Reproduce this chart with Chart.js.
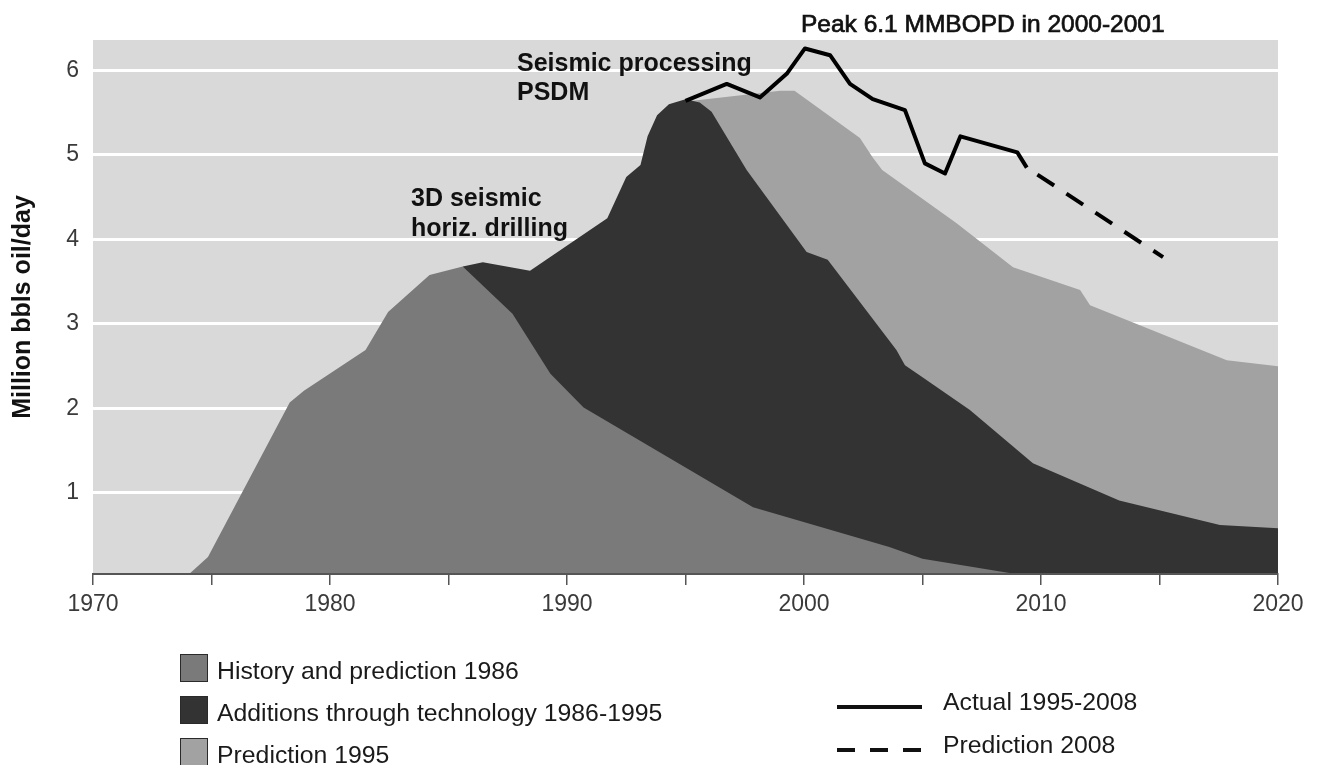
<!DOCTYPE html>
<html>
<head>
<meta charset="utf-8">
<script src="https://cdn.jsdelivr.net/npm/chart.js@4.4.0/dist/chart.umd.min.js"></script>
<style>
  html, body { margin: 0; padding: 0; background: #ffffff; }
  #wrap { position: relative; width: 1319px; height: 765px; overflow: hidden; }
  #c { position: absolute; left: 0; top: 0; }
  .lg { position: absolute; font-family: "Liberation Sans", Arial, sans-serif; font-size: 24.8px; line-height: 28px; color: #1a1a1a; white-space: nowrap; }
  .sq { position: absolute; width: 26px; height: 26px; border: 1px solid #2a2a2a; }
  .ln { position: absolute; height: 4px; }
</style>
</head>
<body>
<div id="wrap">
  <canvas id="c" width="1319" height="765"></canvas>
  <div id="legend"></div>
</div>
<script>
// ---------------- DATA ----------------
const xTickValues = [1970, 1975, 1980, 1985, 1990, 1995, 2000, 2005, 2010, 2015, 2020];
const yTickValues = [1, 2, 3, 4, 5, 6];

// History and prediction 1986 (mid grey area)
const historyYears  = [1973.9, 1974.85, 1978.3, 1978.9, 1981.5, 1982.45, 1984.2, 1985.6, 1987.7, 1989.3, 1990.7, 1997.85, 2003.6, 2005.0, 2009.8];
const historyValues = [0, 0.24, 2.07, 2.21, 2.69, 3.14, 3.58, 3.68, 3.12, 2.41, 2.01, 0.83, 0.36, 0.22, 0];

// Additions through technology 1986-1995 (upper boundary of dark area)
const additionsYears  = [1985.6, 1986.45, 1988.44, 1990.55, 1991.7, 1992.5, 1993.1, 1993.4, 1993.8, 1994.3, 1995.0, 1995.6, 1996.1, 1997.58, 2000.11, 2001.0, 2003.9, 2004.26, 2005.0, 2007.0, 2009.66, 2013.3, 2017.55, 2020];
const additionsValues = [3.68, 3.73, 3.63, 4.03, 4.25, 4.74, 4.88, 5.22, 5.47, 5.60, 5.66, 5.62, 5.51, 4.82, 3.85, 3.76, 2.69, 2.51, 2.37, 1.98, 1.35, 0.91, 0.62, 0.58];

// Prediction 1995 (upper boundary of light grey area)
const prediction1995Years  = [1995.0, 1995.3, 1997.16, 1999.0, 1999.6, 2002.36, 2002.9, 2003.3, 2006.44, 2008.82, 2011.65, 2012.07, 2014.04, 2017.84, 2020];
const prediction1995Values = [5.66, 5.64, 5.70, 5.76, 5.76, 5.20, 4.97, 4.82, 4.19, 3.67, 3.40, 3.22, 3.00, 2.57, 2.50];

// Actual 1995-2008 (solid line)
const actualYears  = [1995.0, 1996.74, 1998.14, 1999.27, 2000.04, 2001.1, 2001.94, 2002.9, 2004.26, 2005.1, 2005.95, 2006.6, 2009.0, 2009.4];
const actualValues = [5.64, 5.84, 5.68, 5.96, 6.26, 6.18, 5.84, 5.66, 5.53, 4.90, 4.78, 5.22, 5.03, 4.85];

// Prediction 2008 (dashed line)
const prediction2008Years  = [2009.4, 2015.15];
const prediction2008Values = [4.85, 3.79];

const areaNames = ["History and prediction 1986", "Additions through technology 1986-1995", "Prediction 1995"];
const lineNames = ["Actual 1995-2008", "Prediction 2008"];
const yAxisTitle = "Million bbls oil/day";
const notes = {
  peak: "Peak 6.1 MMBOPD in 2000-2001",
  seismic: ["Seismic processing", "PSDM"],
  threeD: ["3D seismic", "horiz. drilling"]
};
// ------------------------------------------------------------------------

const FONT = '"Liberation Sans", Arial, sans-serif';
const COL = { bg: '#d9d9d9', history: '#7a7a7a', additions: '#333333', pred95: '#a2a2a2', line: '#000000' };

function pts(xs, ys) { return xs.map((x, i) => ({ x: x, y: ys[i] })); }

const plotBg = {
  id: 'plotBg',
  beforeDraw(chart) {
    const { ctx, chartArea: a } = chart;
    ctx.save();
    ctx.fillStyle = COL.bg;
    ctx.fillRect(a.left, a.top, a.right - a.left, a.bottom - a.top);
    ctx.restore();
  }
};

const notesPlugin = {
  id: 'notes',
  afterDraw(chart) {
    const ctx = chart.ctx;
    ctx.save();
    ctx.fillStyle = '#111';
    ctx.strokeStyle = '#111';
    ctx.textAlign = 'left';
    ctx.textBaseline = 'alphabetic';
    ctx.font = 'bold 25px ' + FONT;
    ctx.fillText(notes.seismic[0], 517, 71);
    ctx.fillText(notes.seismic[1], 517, 100);
    ctx.fillText(notes.threeD[0], 411, 206);
    ctx.fillText(notes.threeD[1], 411, 236);
    ctx.font = '24.5px ' + FONT;
    ctx.lineWidth = 0.7;
    ctx.fillText(notes.peak, 801, 32);
    ctx.strokeText(notes.peak, 801, 32);
    ctx.restore();
  }
};

new Chart(document.getElementById('c'), {
  type: 'line',
  data: {
    datasets: [
      { label: lineNames[0], data: pts(actualYears, actualValues), borderColor: COL.line, borderWidth: 4,
        pointRadius: 0, fill: false, tension: 0, borderJoinStyle: 'round', borderCapStyle: 'butt', order: 0 },
      { label: lineNames[1], data: pts(prediction2008Years, prediction2008Values), borderColor: COL.line, borderWidth: 4,
        borderDash: [20, 14.7], borderDashOffset: 22, pointRadius: 0, fill: false, tension: 0, order: 0 },
      { label: areaNames[0], data: pts(historyYears, historyValues), borderWidth: 0, borderColor: COL.history,
        backgroundColor: COL.history, pointRadius: 0, fill: 'start', tension: 0, order: 1 },
      { label: areaNames[1], data: pts(additionsYears, additionsValues), borderWidth: 0, borderColor: COL.additions,
        backgroundColor: COL.additions, pointRadius: 0, fill: 'start', tension: 0, order: 2 },
      { label: areaNames[2], data: pts(prediction1995Years, prediction1995Values), borderWidth: 0, borderColor: COL.pred95,
        backgroundColor: COL.pred95, pointRadius: 0, fill: 'start', tension: 0, order: 3 }
    ]
  },
  options: {
    responsive: false,
    animation: false,
    events: [],
    layout: { padding: { top: 40, right: 41, left: 0, bottom: 0 } },
    plugins: { legend: { display: false }, tooltip: { enabled: false } },
    scales: {
      x: {
        type: 'linear',
        min: 1970, max: 2020,
        afterFit(scale) { scale.height = 191; },
        afterBuildTicks(scale) { scale.ticks = xTickValues.map(v => ({ value: v })); },
        grid: { drawOnChartArea: false, drawTicks: true, tickLength: 11, color: '#555', lineWidth: 1.5 },
        border: { display: true, color: '#555', width: 2, z: 2 },
        ticks: {
          autoSkip: false, maxRotation: 0, padding: 6, color: '#3a3a3a',
          font: { family: FONT, size: 23 },
          callback: (v) => (v % 10 === 0 ? String(v) : '')
        }
      },
      y: {
        type: 'linear',
        min: 0.04, max: 6.36,
        afterFit(scale) { scale.width = 93; },
        afterBuildTicks(scale) { scale.ticks = yTickValues.map(v => ({ value: v })); },
        grid: { drawTicks: false, color: '#ffffff', lineWidth: 3 },
        border: { display: false },
        ticks: { padding: 14, color: '#3a3a3a', font: { family: FONT, size: 23 } },
        title: { display: true, text: yAxisTitle, color: '#111', padding: { top: 8, bottom: 0 },
                 font: { family: FONT, size: 25, weight: 'bold' } }
      }
    }
  },
  plugins: [plotBg, notesPlugin]
});

// ---------------- Legend (HTML) ----------------
const legend = document.getElementById('legend');
const areaColors = [COL.history, COL.additions, COL.pred95];
const areaRowTops = [654, 696, 738];
areaNames.forEach((name, i) => {
  const sq = document.createElement('div');
  sq.className = 'sq';
  sq.style.left = '180px';
  sq.style.top = areaRowTops[i] + 'px';
  sq.style.background = areaColors[i];
  legend.appendChild(sq);
  const t = document.createElement('div');
  t.className = 'lg';
  t.style.left = '217px';
  t.style.top = (areaRowTops[i] + 3) + 'px';
  t.textContent = name;
  legend.appendChild(t);
});
const lineRowY = [707, 750];
lineNames.forEach((name, i) => {
  const ln = document.createElement('div');
  ln.className = 'ln';
  ln.style.left = '837px';
  ln.style.width = '85px';
  ln.style.top = (lineRowY[i] - 2) + 'px';
  ln.style.background = i === 0 ? '#111'
    : 'repeating-linear-gradient(to right, #111 0 18px, transparent 18px 33px)';
  legend.appendChild(ln);
  const t = document.createElement('div');
  t.className = 'lg';
  t.style.left = '943px';
  t.style.top = (lineRowY[i] - 19) + 'px';
  t.textContent = name;
  legend.appendChild(t);
});
</script>
</body>
</html>
